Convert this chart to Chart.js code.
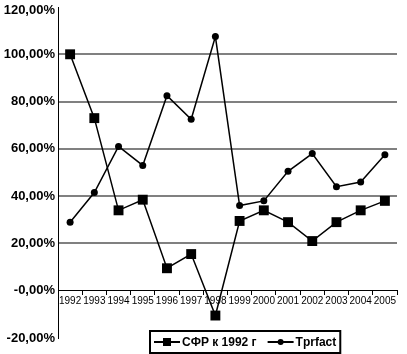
<!DOCTYPE html>
<html>
<head>
<meta charset="utf-8">
<script src="https://cdn.jsdelivr.net/npm/chart.js@4"></script>
<style>
    html, body { margin: 0; padding: 0; background: #fff; }
    #wrap { width: 407px; height: 354px; }
</style>
</head>
<body>
<div id="wrap"><canvas id="myChart"></canvas></div>
<script>
// years on the x axis
const years = ['1992', '1993', '1994', '1995', '1996', '1997', '1998',
    '1999', '2000', '2001', '2002', '2003', '2004', '2005'];
// series values, percent
const sfr = [100, 73, 34, 38.5, 9.5, 15.5, -10.5, 29.5, 34, 29, 21, 29, 34, 38];
const tprfact = [29, 41.5, 61, 53, 82.5, 72.5, 107.5, 36, 38, 50.5, 58, 44, 46, 57.5];
const seriesNames = ['СФР к 1992 г', 'Tprfact'];
const yMin = -20, yMax = 120;

const fontFamily = "'Liberation Sans', Arial, sans-serif";

function pct(v) {
    if (v === 0) return '-0,00%';
    return v.toFixed(2).replace('.', ',') + '%';
}

function noPad(scale) {
    scale.paddingTop = 0;
    scale.paddingBottom = 0;
}

// top label would be cut at the canvas edge, so it is drawn a bit lower
const topLabel = {
    id: 'topLabel',
    afterDraw: function (chart) {
        const c = chart.ctx;
        const y = chart.scales.y;
        c.save();
        c.font = 'bold 13px ' + fontFamily;
        c.fillStyle = '#000';
        c.textAlign = 'right';
        c.textBaseline = 'middle';
        c.fillText(pct(yMax), y.right - 3, 10);
        c.restore();
    }
};

// draw legend box by hand, it sits over the bottom of the plot
const boxLegend = {
    id: 'boxLegend',
    afterDraw: function (chart) {
        const ctx = chart.ctx;
        const left = 150, top = 331, h = 22;
        ctx.save();
        ctx.font = 'bold 12px ' + fontFamily;
        let x = left + 4;
        const items = [];
        chart.data.datasets.forEach(function (ds) {
            const w = ctx.measureText(ds.label).width;
            items.push({ ds: ds, x: x, w: w });
            x += 27 + 3 + w + 9;
        });
        const right = x - 9 + 2;
        ctx.fillStyle = '#fff';
        ctx.fillRect(left, top, right - left, h);
        ctx.strokeStyle = '#000';
        ctx.lineWidth = 2;
        ctx.strokeRect(left, top, right - left, h);
        const cy = top + h / 2;
        items.forEach(function (it) {
            ctx.beginPath();
            ctx.lineWidth = 2;
            ctx.moveTo(it.x, cy);
            ctx.lineTo(it.x + 26, cy);
            ctx.stroke();
            ctx.fillStyle = '#000';
            if (it.ds.pointStyle === 'rect') {
                ctx.fillRect(it.x + 9, cy - 4, 8, 8);
            } else {
                ctx.beginPath();
                ctx.arc(it.x + 13, cy, 3, 0, Math.PI * 2);
                ctx.fill();
            }
            ctx.textBaseline = 'middle';
            ctx.fillText(it.ds.label, it.x + 28, cy + 1);
        });
        ctx.restore();
    }
};

const ctx = document.getElementById('myChart').getContext('2d');
const myChart = new Chart(ctx, {
    type: 'line',
    data: {
        labels: years,
        datasets: [
            {
                label: seriesNames[0],
                data: sfr,
                borderColor: '#000',
                backgroundColor: '#000',
                borderWidth: 1.5,
                pointStyle: 'rect',
                pointRadius: 7,
                pointBorderWidth: 0
            },
            {
                label: seriesNames[1],
                data: tprfact,
                borderColor: '#000',
                backgroundColor: '#000',
                borderWidth: 1.5,
                pointStyle: 'circle',
                pointRadius: 3.5,
                pointBorderWidth: 0
            }
        ]
    },
    options: {
        responsive: true,
        maintainAspectRatio: false,
        animation: false,
        layout: { padding: { top: 3, right: 10, bottom: 16, left: 0 } },
        plugins: {
            legend: { display: false },
            tooltip: { enabled: false }
        },
        scales: {
            x: {
                position: { y: 0 },
                offset: true,
                afterFit: noPad,
                grid: {
                    offset: true,
                    drawOnChartArea: false,
                    drawTicks: true,
                    tickLength: 4,
                    color: '#000'
                },
                border: { color: '#000', width: 1 },
                ticks: {
                    color: '#000',
                    font: { family: fontFamily, size: 10 },
                    padding: 1,
                    maxRotation: 0,
                    autoSkip: false
                }
            },
            y: {
                min: yMin,
                max: yMax,
                afterFit: function (scale) {
                    scale.width = 58;
                    noPad(scale);
                },
                grid: {
                    drawTicks: false,
                    lineWidth: 2,
                    color: function (c) {
                        const v = c.tick.value;
                        return (v > 0 && v < yMax) ? '#808080' : 'rgba(0,0,0,0)';
                    }
                },
                border: { color: '#000', width: 1 },
                ticks: {
                    stepSize: 20,
                    color: '#000',
                    padding: 3,
                    font: { family: fontFamily, size: 13, weight: 'bold' },
                    callback: function (v) {
                        if (v === yMax) return '';
                        return pct(v);
                    }
                }
            }
        }
    },
    plugins: [topLabel, boxLegend]
});
</script>
</body>
</html>
